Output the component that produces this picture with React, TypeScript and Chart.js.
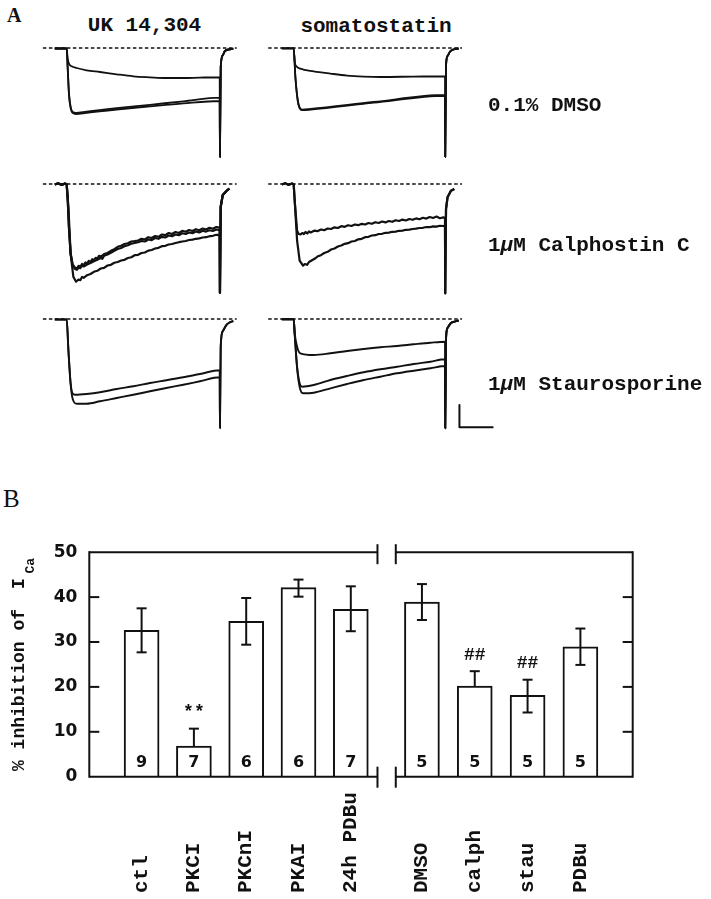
import React, { useEffect, useRef } from "react";
import { Chart, registerables } from "chart.js";

Chart.register(...registerables);

type Pt = [number, number];

const INK = "#111";

// ================= Panel B data =================
const barCategories = ["ctl", "PKCI", "PKCnI", "PKAI", "24h PDBu", "DMSO", "calph", "stau", "PDBu"];
const barPositions = [1, 2, 3, 4, 5, 6.36, 7.37, 8.38, 9.39];
const barMeans = [32.6, 6.8, 34.6, 42.1, 37.3, 38.9, 20.2, 18.1, 28.9];
const barErrUpper = [37.5, 10.7, 39.8, 43.9, 42.4, 42.9, 23.5, 21.6, 33.0];
const barErrLower = [27.7, 6.8, 29.4, 40.1, 32.4, 34.9, 20.2, 14.3, 24.9];
const barN = ["9", "7", "6", "6", "7", "5", "5", "5", "5"];
const barMarks = ["", "**", "", "", "", "", "##", "##", ""];
const yTicks = [0, 10, 20, 30, 40, 50];
const axisBreak = [5.51, 5.86];
const xRange = [0, 10.39];

// ================= Panel A data (time in ms, current in pA) =================
// Row 1: 0.1% DMSO
const dmsoUkAgonist: Pt[] = [[-7, -5], [0, -5], [0.57, -106], [1.35, -156], [2.9, -183], [5.9, -200], [11.7, -223], [19.6, -240], [29.4, -263], [39.2, -283], [49, -293], [58.2, -300], [68.6, -300], [78.4, -296], [90, -293]];
const dmsoUkControl: Pt[] = [[-7, -5], [0, -5], [0.57, -190], [1.35, -456], [2.33, -590], [3.5, -640], [5.5, -650], [11.7, -636], [29.4, -602], [49, -568], [68.6, -533], [90, -497]];
const dmsoUkWash: Pt[] = [[-7, -5], [0, -5], [0.57, -195], [1.35, -466], [2.33, -600], [3.5, -650], [5.5, -662], [11.7, -648], [29.4, -615], [49, -583], [68.6, -553], [90, -530]];
const dmsoUkTail: Pt[] = [[90.15, -1090], [90.6, -190], [91.8, -73], [93.1, -30], [96, -13], [98, -6]];

const dmsoSsAgonist: Pt[] = [[-7, -3], [0, -3], [0.6, -140], [1.6, -183], [3.9, -206], [11.8, -233], [21.6, -256], [31.4, -276], [41.2, -286], [51, -290], [70.6, -286], [89, -283]];
const dmsoSsControl: Pt[] = [[-7, -3], [0, -3], [1, -290], [2.4, -523], [3.5, -596], [4.9, -616], [10, -610], [47, -540], [89, -470]];
const dmsoSsWash: Pt[] = [[-7, -3], [0, -3], [1, -295], [2.4, -530], [3.5, -602], [4.9, -622], [10, -616], [47, -547], [89, -478]];
const dmsoSsTail: Pt[] = [[89.15, -1090], [89.6, -180], [90.5, -80], [92, -35], [94, -15], [97, -5]];

// Row 2: 1 uM Calphostin C
const calUkA: Pt[] = [[-7, -5], [-5, 8], [-3, -10], [-1, 6], [0, -4], [0.6, -150], [1.3, -420], [2.3, -690], [3.5, -805], [5, -838], [6, -845], [7, -818], [8, -828], [9, -800], [10, -812], [11, -785], [12, -795], [13, -768], [14, -780], [15, -752], [16, -762], [17, -738], [18, -748], [19, -718], [20, -728], [22, -700], [24, -690], [26, -668], [28, -652], [30, -628], [32, -618], [34, -600], [36, -592], [38, -575], [40, -572], [42, -565], [44, -548], [46, -555], [48, -532], [50, -540], [52, -520], [54, -528], [56, -505], [58, -512], [60, -490], [62, -500], [64, -480], [66, -490], [68, -468], [70, -478], [72, -460], [74, -470], [76, -452], [78, -462], [80, -445], [82, -455], [84, -438], [86, -448], [88, -430], [90, -436]];
const calUkB: Pt[] = [[-7, -5], [-5, 6], [-3, -8], [-1, 4], [0, -5], [0.6, -155], [1.3, -430], [2.3, -700], [3.5, -815], [5, -850], [6, -858], [7, -835], [8, -842], [9, -815], [10, -825], [12, -805], [14, -790], [16, -772], [18, -758], [20, -740], [21, -748], [22, -718], [24, -705], [26, -688], [28, -668], [30, -650], [32, -640], [34, -622], [36, -612], [38, -598], [40, -590], [42, -582], [44, -570], [46, -575], [48, -555], [50, -562], [52, -540], [54, -548], [56, -528], [58, -535], [60, -515], [62, -522], [64, -505], [66, -512], [68, -492], [70, -500], [72, -485], [74, -492], [76, -475], [78, -484], [80, -468], [82, -476], [84, -462], [86, -470], [88, -455], [90, -462]];
const calUkC: Pt[] = [[-7, -5], [-5, 7], [-3, -9], [-1, 5], [0, -5], [1, -227], [2.3, -693], [3.9, -927], [5.5, -977], [7, -955], [8, -962], [9, -930], [10, -938], [12, -912], [14, -900], [16, -878], [18, -868], [20, -845], [22, -838], [24, -815], [26, -808], [28, -788], [30, -780], [32, -765], [34, -758], [36, -740], [38, -732], [40, -712], [42, -708], [44, -690], [46, -685], [48, -666], [50, -660], [52, -645], [54, -638], [56, -622], [58, -618], [60, -605], [62, -600], [64, -590], [66, -582], [68, -575], [70, -570], [72, -560], [74, -556], [76, -548], [78, -544], [80, -535], [82, -532], [84, -522], [86, -518], [88, -508], [90, -512]];
const calUkTail: Pt[] = [[90.15, -1087], [90.6, -227], [91.8, -110], [94.1, -67], [95.7, -47]];

const calSsD: Pt[] = [[-7, -5], [-5, 8], [-3, -9], [-1, 6], [0, -4], [0.6, -167], [2, -467], [2.9, -500], [4, -505], [5, -490], [6, -500], [7, -480], [8, -495], [9, -475], [10, -485], [12, -467], [14, -472], [16, -455], [18, -462], [20, -445], [22, -450], [24, -433], [26, -440], [28, -422], [30, -428], [32, -412], [34, -420], [36, -405], [38, -412], [40, -398], [42, -405], [44, -390], [46, -398], [48, -382], [50, -390], [52, -375], [54, -384], [56, -370], [58, -378], [60, -362], [62, -370], [64, -356], [66, -365], [68, -350], [70, -358], [72, -344], [74, -352], [76, -338], [78, -346], [80, -330], [82, -340], [84, -326], [86, -342], [88, -334], [89, -340]];
const calSsE: Pt[] = [[-7, -5], [-5, 7], [-3, -8], [-1, 5], [0, -5], [0.6, -167], [2, -567], [3.5, -767], [5.5, -817], [6.5, -800], [7.9, -808], [9, -780], [10, -770], [11.8, -752], [13, -740], [14, -725], [16, -712], [18, -690], [20, -678], [22, -655], [24, -645], [26, -625], [28, -615], [30, -598], [32, -592], [34, -575], [36, -570], [38, -553], [40, -548], [42, -532], [44, -528], [46, -515], [48, -512], [50, -500], [52, -498], [54, -488], [56, -486], [58, -478], [60, -476], [62, -468], [64, -466], [66, -458], [68, -456], [70, -450], [72, -446], [74, -440], [76, -438], [78, -430], [80, -432], [82, -424], [84, -426], [86, -418], [88, -420], [89, -416]];
const calSsTail: Pt[] = [[89.15, -1093], [89.6, -250], [90.5, -133], [92.5, -67], [94.5, -50]];

// Row 3: 1 uM Staurosporine
const stauUkUpper: Pt[] = [[-7, -5], [0, -5], [1, -307], [2.3, -640], [3.5, -745], [4.9, -757], [11.7, -750], [19.6, -733], [29.4, -700], [39.2, -673], [49, -640], [58.6, -613], [68.6, -583], [78.4, -550], [90, -513]];
const stauUkLower: Pt[] = [[-7, -5], [0, -5], [1, -310], [2.3, -650], [3.5, -797], [5.9, -847], [11.7, -847], [19.6, -823], [29.4, -790], [39.2, -757], [49, -723], [58.6, -690], [68.6, -657], [78.4, -623], [90, -583]];
const stauUkTail: Pt[] = [[90.15, -1090], [90.6, -273], [91.8, -123], [94.1, -57], [96, -33], [98, -20]];

const stauSsAgonist: Pt[] = [[-7, -3], [0, -3], [0.6, -143], [2, -277], [3.9, -343], [11.8, -360], [21.6, -343], [31.4, -320], [41.2, -300], [51, -283], [60.8, -270], [70.6, -253], [80.4, -237], [89, -227]];
const stauSsControl: Pt[] = [[-7, -3], [0, -3], [0.6, -150], [2, -477], [3.5, -643], [4.9, -677], [11.8, -660], [21.6, -610], [31.4, -570], [41.2, -533], [51, -503], [60.8, -477], [70.6, -450], [80.4, -427], [89, -403]];
const stauSsWash: Pt[] = [[-7, -3], [0, -3], [0.6, -155], [2, -490], [3.5, -680], [5.5, -743], [11.8, -737], [21.6, -693], [31.4, -650], [41.2, -610], [51, -577], [60.8, -543], [70.6, -517], [80.4, -493], [89, -470]];
const stauSsTail: Pt[] = [[89.15, -1093], [89.6, -200], [90.5, -90], [92.5, -40], [94.5, -27], [97, -15]];

// zero-current reference lines and scale bar (20 ms / 220 pA)
const zeroLineUk: Pt[] = [[-14, 0], [100, 0]];
const zeroLineSs: Pt[] = [[-15, 0], [99, 0]];
const scaleBar: Pt[] = [[97.5, -860], [97.5, -1083], [117.5, -1083]];

const PX_PER_MS = 1.7;
const Y_MIN = -1150;
const Y_MAX = 120;

type Trace = { pts: Pt[]; width: number; smooth: boolean; dash?: number[] };

function TraceCanvas(props: { left: number; top: number; width: number; height: number; traces: Trace[] }) {
  const ref = useRef<HTMLCanvasElement | null>(null);
  const { left, top, width, height, traces } = props;
  useEffect(() => {
    if (!ref.current) return;
    const xMin = -15.7;
    const xMax = xMin + width / PX_PER_MS;
    const chart = new Chart(ref.current, {
      type: "line",
      data: {
        datasets: traces.map((t) => ({
          data: t.pts.map(([x, y]) => ({ x, y })),
          borderColor: INK,
          borderWidth: t.width,
          borderDash: t.dash || [],
          pointRadius: 0,
          fill: false,
          tension: 0,
          cubicInterpolationMode: t.smooth ? "monotone" : "default",
          borderJoinStyle: "round",
        })),
      },
      options: {
        animation: false,
        responsive: false,
        events: [],
        layout: { padding: 0 },
        plugins: { legend: { display: false }, tooltip: { enabled: false } },
        scales: {
          x: { type: "linear", display: false, min: xMin, max: xMax },
          y: { type: "linear", display: false, min: Y_MIN, max: Y_MAX },
        },
      },
    } as any);
    return () => chart.destroy();
  }, []);
  return (
    <canvas
      ref={ref}
      width={width}
      height={height}
      style={{ position: "absolute", left, top, width, height }}
    />
  );
}

const bChartPlugin = {
  id: "bFrame",
  afterDatasetsDraw(chart: any) {
    const { ctx, chartArea: a } = chart;
    const xs = chart.scales.x;
    const ys = chart.scales.y;
    const line = (x1: number, y1: number, x2: number, y2: number) => {
      ctx.beginPath();
      ctx.moveTo(x1, y1);
      ctx.lineTo(x2, y2);
      ctx.stroke();
    };
    ctx.save();
    ctx.strokeStyle = INK;
    ctx.fillStyle = INK;
    ctx.lineWidth = 2;
    ctx.lineCap = "butt";
    const b0 = xs.getPixelForValue(axisBreak[0]);
    const b1 = xs.getPixelForValue(axisBreak[1]);
    const top = ys.getPixelForValue(yTicks[yTicks.length - 1]);
    const bot = ys.getPixelForValue(yTicks[0]);
    // frame with axis break
    line(a.left, top, b0, top);
    line(b1, top, a.right, top);
    line(a.left, bot, b0, bot);
    line(b1, bot, a.right, bot);
    line(a.left, top - 1, a.left, bot + 1);
    line(a.right, top - 1, a.right, bot + 1);
    line(b0, top - 8, b0, top + 12);
    line(b1, top - 8, b1, top + 12);
    line(b0, bot - 10, b0, bot + 11);
    line(b1, bot - 10, b1, bot + 11);
    // inward ticks
    yTicks.slice(1, -1).forEach((v) => {
      const py = ys.getPixelForValue(v);
      line(a.left, py, a.left + 10, py);
      line(a.right - 10, py, a.right, py);
    });
    // error bars
    barPositions.forEach((pos, i) => {
      const px = xs.getPixelForValue(pos);
      const hi = ys.getPixelForValue(barErrUpper[i]);
      const lo = ys.getPixelForValue(barErrLower[i]);
      line(px, hi, px, lo);
      line(px - 5, hi, px + 5, hi);
      if (barErrLower[i] < barMeans[i]) line(px - 5, lo, px + 5, lo);
    });
    // n labels
    ctx.font = '700 16px "DejaVu Sans"';
    ctx.textAlign = "center";
    ctx.textBaseline = "middle";
    barPositions.forEach((pos, i) => {
      ctx.fillText(barN[i], xs.getPixelForValue(pos), ys.getPixelForValue(3));
    });
    // significance marks
    ctx.font = '700 18px "Liberation Mono"';
    barPositions.forEach((pos, i) => {
      if (barMarks[i]) ctx.fillText(barMarks[i], xs.getPixelForValue(pos), ys.getPixelForValue(barErrUpper[i] + 3.6));
    });
    // category labels (rotated, bottom aligned)
    ctx.font = '700 21px "Liberation Mono"';
    ctx.textAlign = "left";
    ctx.textBaseline = "middle";
    barPositions.forEach((pos, i) => {
      ctx.save();
      ctx.translate(xs.getPixelForValue(pos), chart.height - 6);
      ctx.rotate(-Math.PI / 2);
      ctx.fillText(barCategories[i], 0, 0);
      ctx.restore();
    });
    // y-axis title
    ctx.save();
    ctx.translate(23.5, 241);
    ctx.rotate(-Math.PI / 2);
    ctx.textAlign = "left";
    ctx.textBaseline = "alphabetic";
    ctx.font = '700 18px "Liberation Mono"';
    ctx.fillText("% inhibition of", 0, 0);
    ctx.fillText("I", 182, 0);
    ctx.font = '700 13px "Liberation Mono"';
    ctx.fillText("Ca", 197.5, 10.5);
    ctx.restore();
    ctx.restore();
  },
};

function BarPanel() {
  const ref = useRef<HTMLCanvasElement | null>(null);
  useEffect(() => {
    if (!ref.current) return;
    const chart = new Chart(ref.current, {
      type: "bar",
      data: {
        datasets: [
          {
            data: barPositions.map((x, i) => ({ x, y: barMeans[i] })),
            backgroundColor: "#ffffff",
            borderColor: INK,
            borderWidth: 2,
            barThickness: 35,
            borderSkipped: "bottom",
          },
        ],
      },
      options: {
        animation: false,
        responsive: false,
        events: [],
        layout: { padding: { left: 0, top: 20, right: 78.3, bottom: 122.3 } },
        plugins: { legend: { display: false }, tooltip: { enabled: false } },
        scales: {
          x: {
            type: "linear",
            display: false,
            offset: false,
            grid: { offset: false },
            min: xRange[0],
            max: xRange[1],
          },
          y: {
            type: "linear",
            min: yTicks[0],
            max: yTicks[yTicks.length - 1],
            afterBuildTicks: (s: any) => {
              s.ticks = yTicks.map((v) => ({ value: v }));
            },
            afterFit: (s: any) => {
              s.width = 89.3;
            },
            grid: { display: false, drawTicks: false },
            border: { display: false },
            ticks: {
              padding: 12,
              color: INK,
              font: { family: "DejaVu Sans", size: 17, weight: "bold" },
            },
          },
        },
      },
      plugins: [bChartPlugin],
    } as any);
    return () => chart.destroy();
  }, []);
  return (
    <canvas
      ref={ref}
      width={711}
      height={369}
      style={{ position: "absolute", left: 0, top: 530, width: 711, height: 369 }}
    />
  );
}

const monoText: React.CSSProperties = {
  position: "absolute",
  fontFamily: '"Liberation Mono", monospace',
  fontWeight: 700,
  fontSize: 21,
  lineHeight: "21px",
  whiteSpace: "nowrap",
  color: INK,
};

const colUk = { left: 40, width: 200 };
const colSs = { left: 267, width: 240 };
const rowTops = [36, 172, 307];
const ROW_H = 127;

export default function App() {
  const zeroUk: Trace = { pts: zeroLineUk, width: 1.3, smooth: false, dash: [3.5, 2.5] };
  const zeroSs: Trace = { pts: zeroLineSs, width: 1.3, smooth: false, dash: [3.5, 2.5] };
  const withTail = (pts: Pt[], tail: Pt[]) => pts.concat(tail);
  return (
    <div style={{ position: "relative", width: 711, height: 899, background: "#fff", overflow: "hidden" }}>
      <style>{"body{margin:0;background:#fff}"}</style>
      <div style={{ position: "absolute", left: 7, top: 5, fontFamily: '"Liberation Serif", serif', fontWeight: 700, fontSize: 20, lineHeight: "20px", color: INK }}>A</div>
      <div style={{ ...monoText, left: 144.5, top: 15, transform: "translateX(-50%)" }}>UK 14,304</div>
      <div style={{ ...monoText, left: 376, top: 15.5, transform: "translateX(-50%)" }}>somatostatin</div>

      {/* Row 1 */}
      <TraceCanvas left={colUk.left} top={rowTops[0]} width={colUk.width} height={ROW_H} traces={[
        zeroUk,
        { pts: withTail(dmsoUkAgonist, dmsoUkTail), width: 1.8, smooth: true },
        { pts: withTail(dmsoUkControl, dmsoUkTail), width: 1.8, smooth: true },
        { pts: withTail(dmsoUkWash, dmsoUkTail), width: 1.8, smooth: true },
      ]} />
      <TraceCanvas left={colSs.left} top={rowTops[0]} width={colSs.width} height={ROW_H} traces={[
        zeroSs,
        { pts: withTail(dmsoSsAgonist, dmsoSsTail), width: 1.8, smooth: true },
        { pts: withTail(dmsoSsControl, dmsoSsTail), width: 1.8, smooth: true },
        { pts: withTail(dmsoSsWash, dmsoSsTail), width: 1.8, smooth: true },
      ]} />

      {/* Row 2 */}
      <TraceCanvas left={colUk.left} top={rowTops[1]} width={colUk.width} height={ROW_H} traces={[
        zeroUk,
        { pts: withTail(calUkA, calUkTail), width: 2.2, smooth: false },
        { pts: withTail(calUkB, calUkTail), width: 2.2, smooth: false },
        { pts: withTail(calUkC, calUkTail), width: 2.2, smooth: false },
      ]} />
      <TraceCanvas left={colSs.left} top={rowTops[1]} width={colSs.width} height={ROW_H} traces={[
        zeroSs,
        { pts: withTail(calSsD, calSsTail), width: 2.2, smooth: false },
        { pts: withTail(calSsE, calSsTail), width: 2.2, smooth: false },
      ]} />

      {/* Row 3 */}
      <TraceCanvas left={colUk.left} top={rowTops[2]} width={colUk.width} height={ROW_H} traces={[
        zeroUk,
        { pts: withTail(stauUkUpper, stauUkTail), width: 1.9, smooth: true },
        { pts: withTail(stauUkLower, stauUkTail), width: 1.9, smooth: true },
      ]} />
      <TraceCanvas left={colSs.left} top={rowTops[2]} width={colSs.width} height={ROW_H} traces={[
        zeroSs,
        { pts: withTail(stauSsAgonist, stauSsTail), width: 1.9, smooth: true },
        { pts: withTail(stauSsControl, stauSsTail), width: 1.9, smooth: true },
        { pts: withTail(stauSsWash, stauSsTail), width: 1.9, smooth: true },
        { pts: scaleBar, width: 2, smooth: false },
      ]} />

      <div style={{ ...monoText, left: 488, top: 94.6 }}>0.1% DMSO</div>
      <div style={{ ...monoText, left: 488, top: 234.6 }}>1<i>µ</i>M Calphostin C</div>
      <div style={{ ...monoText, left: 488, top: 374 }}>1<i>µ</i>M Staurosporine</div>

      <div style={{ position: "absolute", left: 3, top: 486.4, fontFamily: '"Liberation Serif", serif', fontSize: 25, lineHeight: "25px", color: INK }}>B</div>
      <BarPanel />
    </div>
  );
}
